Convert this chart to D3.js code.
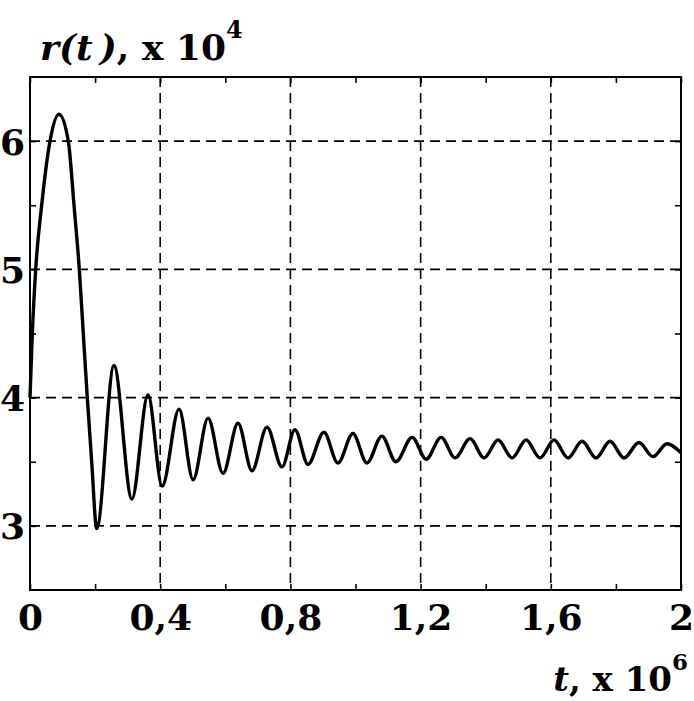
<!DOCTYPE html>
<html><head><meta charset="utf-8">
<script src="https://cdn.jsdelivr.net/npm/d3@7"></script>
<style>body{margin:0;background:#fff}svg{display:block}</style></head>
<body>
<svg id="c" width="694" height="701"></svg>
<script>
// time (x 10^6) and r(t) (x 10^4)
const tValues = [0, 0.0071, 0.0175, 0.0359, 0.0614, 0.089,
  0.1177, 0.1352, 0.1515, 0.1637, 0.176, 0.1895, 0.205,
  0.258, 0.313, 0.3625, 0.406, 0.458, 0.501, 0.547, 0.593, 0.639, 0.682,
  0.728, 0.774, 0.814, 0.854, 0.903, 0.946, 0.992, 1.035, 1.081, 1.124,
  1.174, 1.217, 1.263, 1.306, 1.352, 1.395, 1.438, 1.481, 1.524, 1.567,
  1.610, 1.653, 1.696, 1.739, 1.782, 1.825, 1.871, 1.914, 1.957, 2.0];
const rValues = [4.00, 4.50, 5.00, 5.50, 6.00, 6.21,
  6.00, 5.50, 5.00, 4.50, 4.00, 3.50, 2.98,
  4.25, 3.21, 4.02, 3.31, 3.91, 3.36, 3.84, 3.41, 3.80, 3.43,
  3.77, 3.46, 3.75, 3.48, 3.73, 3.49, 3.72, 3.49, 3.70, 3.50,
  3.69, 3.52, 3.69, 3.53, 3.68, 3.53, 3.67, 3.53, 3.67, 3.53,
  3.67, 3.53, 3.66, 3.53, 3.66, 3.53, 3.65, 3.54, 3.64, 3.57];

const xTicks = [0, 0.4, 0.8, 1.2, 1.6, 2];
const xTickLabels = ["0", "0,4", "0,8", "1,2", "1,6", "2"];
const xMinorTicks = [0.2, 0.6, 1.0, 1.4, 1.8];
const yTicks = [3, 4, 5, 6];
const yTickLabels = ["3", "4", "5", "6"];
const yMinorTicks = [3.5, 4.5, 5.5];

const FONT = "'DejaVu Serif', 'Liberation Serif', serif";
const svg = d3.select("#c");
const L = 30, R = 681, T = 77, B = 590;
const x = d3.scaleLinear().domain([0, 2]).range([L, R]);
const y = d3.scaleLinear().domain([2.5, 6.5]).range([B, T]);

// grid
const grid = svg.append("g").attr("stroke", "#000").attr("stroke-width", 1.6)
  .attr("stroke-dasharray", "10,6");
grid.selectAll(".gx").data(xTicks.slice(1, -1)).join("line")
  .attr("x1", d => x(d)).attr("x2", d => x(d)).attr("y1", T).attr("y2", B);
grid.selectAll(".gy").data(yTicks).join("line")
  .attr("y1", d => y(d)).attr("y2", d => y(d)).attr("x1", L).attr("x2", R);

// inner ticks on all four sides
const allX = xTicks.concat(xMinorTicks), allY = yTicks.concat(yMinorTicks);
function tickAxis(gen, tr) {
  const g = svg.append("g").attr("transform", tr).call(gen);
  g.select(".domain").remove();
  g.selectAll("line").attr("stroke", "#000").attr("stroke-width", 1.6);
  g.selectAll("text").remove();
}
tickAxis(d3.axisBottom(x).tickValues(allX).tickSize(-6), `translate(0,${B})`);
tickAxis(d3.axisTop(x).tickValues(allX).tickSize(-6), `translate(0,${T})`);
tickAxis(d3.axisLeft(y).tickValues(allY).tickSize(-6), `translate(${L},0)`);
tickAxis(d3.axisRight(y).tickValues(allY).tickSize(-6), `translate(${R},0)`);

// frame
svg.append("rect").attr("x", L).attr("y", T).attr("width", R - L).attr("height", B - T)
  .attr("fill", "none").attr("stroke", "#000").attr("stroke-width", 2);

// tick labels
const xl = svg.append("g").attr("transform", `translate(0,${B})`)
  .call(d3.axisBottom(x).tickValues(xTicks).tickSize(0).tickPadding(0)
    .tickFormat((d, i) => xTickLabels[i]));
xl.select(".domain").remove();
xl.selectAll("text").attr("font-family", FONT).attr("font-weight", "bold")
  .attr("font-size", 36).attr("fill", "#000").attr("dy", null).attr("y", 40);

const yl = svg.append("g").attr("transform", `translate(${L},0)`)
  .call(d3.axisLeft(y).tickValues(yTicks).tickSize(0).tickPadding(5)
    .tickFormat((d, i) => yTickLabels[i]));
yl.select(".domain").remove();
yl.selectAll("text").attr("font-family", FONT).attr("font-weight", "bold")
  .attr("font-size", 36).attr("fill", "#000").attr("dy", "0.36em");

// curve
const pts = tValues.map((t, i) => [t, rValues[i]]);
svg.append("path").datum(pts)
  .attr("d", d3.line().x(d => x(d[0])).y(d => y(d[1])).curve(d3.curveMonotoneX))
  .attr("fill", "none").attr("stroke", "#000").attr("stroke-width", 3.4)
  .attr("stroke-linejoin", "round");

// axis titles
const yt = svg.append("text").attr("x", 40).attr("y", 60)
  .attr("font-family", FONT).attr("font-weight", "bold").attr("font-size", 36).attr("fill", "#000");
yt.append("tspan").attr("font-style", "italic").text("r(t\u2009)");
yt.append("tspan").text(", x 10");
yt.append("tspan").attr("font-size", 24).attr("dy", -22).text("4");

const xt = svg.append("text").attr("x", 688).attr("y", 691).attr("text-anchor", "end")
  .attr("font-family", FONT).attr("font-weight", "bold").attr("font-size", 34).attr("fill", "#000");
xt.append("tspan").attr("font-style", "italic").text("t");
xt.append("tspan").text(", x 10");
xt.append("tspan").attr("font-size", 23).attr("dy", -21).text("6");
</script>
</body></html>
